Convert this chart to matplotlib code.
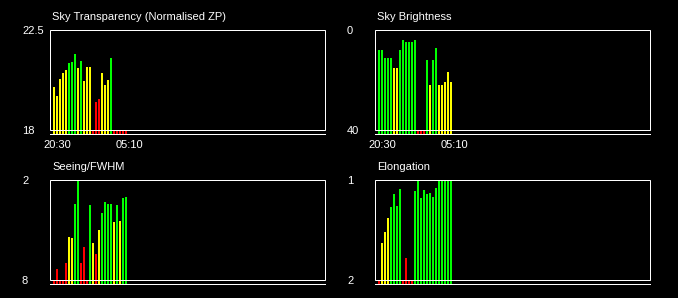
import numpy as np
import matplotlib
matplotlib.use("Agg")
import matplotlib.pyplot as plt
from matplotlib.patches import Rectangle

nan = np.nan

# ---- data ----
titles = ["Sky Transparency (Normalised ZP)", "Sky Brightness", "Seeing/FWHM", "Elongation"]
time_labels = ["20:30", "05:10"]
time_label_bars = [1, 25]

transparency = [19.94, 19.53, 20.30, 20.57, 20.70, 21.02, 21.06, 21.42, 20.79, 21.11,
                20.21, 20.84, 20.84, nan, 19.26, 19.40, 20.58, 20.03, 20.25, 21.24,
                nan, nan, nan, nan, nan]
transparency_q = ["y", "y", "y", "y", "y", "g", "g", "g", "y", "g",
                  "y", "y", "y", "r", "r", "r", "y", "y", "y", "g",
                  "r", "r", "r", "r", "r"]

brightness = [8.0, 8.0, 11.2, 11.2, 11.2, 15.2, 15.2, 8.0, 4.0, 4.8,
              4.8, 4.8, 4.0, nan, nan, nan, 12.0, 22.0, 12.0, 7.2,
              22.0, 22.0, 20.8, 16.8, 20.8]
brightness_q = ["g", "g", "g", "g", "g", "y", "y", "g", "g", "g",
                "g", "g", "g", "r", "r", "r", "g", "y", "g", "g",
                "y", "y", "y", "y", "y"]

seeing = [nan, 7.34, nan, nan, 6.98, 5.42, 5.48, 3.44, 2.00, 6.98,
          6.02, nan, 3.50, 5.78, 6.44, 5.00, 3.98, 3.32, 3.44, 3.44,
          4.52, 3.50, 4.46, 3.08, 3.02]
seeing_q = ["r", "r", "r", "r", "r", "y", "y", "g", "g", "r",
            "r", "r", "g", "y", "r", "y", "g", "g", "g", "g",
            "y", "g", "y", "g", "g"]

elongation = [nan, 1.63, 1.52, 1.38, 1.27, 1.14, 1.26, 1.09, nan, 1.78,
              nan, nan, 1.11, 1.00, 1.18, 1.10, 1.14, 1.13, 1.17, 1.08,
              1.00, 1.00, 1.00, 1.00, 1.00]
elongation_q = ["r", "y", "y", "y", "g", "g", "g", "g", "r", "r",
                "r", "r", "g", "g", "g", "g", "g", "g", "g", "g",
                "g", "g", "g", "g", "g"]

ytick_labels = [["22.5", "18"], ["0", "40"], ["2", "8"], ["1", "2"]]
y_top = [22.5, 0.0, 2.0, 1.0]
y_bottom = [18.0, 40.0, 8.0, 2.0]

series = [transparency, brightness, seeing, elongation]
quality = [transparency_q, brightness_q, seeing_q, elongation_q]

# ---- style ----
W, H, DPI = 678, 298, 100
qcolor = {"g": "#00ff00", "y": "#ffff00", "r": "#ff0000"}
lw = 0.72
fs = 8

plt.rcParams["font.family"] = ["Liberation Sans", "DejaVu Sans"]
fig = plt.figure(figsize=(W / DPI, H / DPI), dpi=DPI, facecolor="black")

# panel pixel geometry: (left, top) of box; box 275x100, base line 4px below
panel_px = [(50, 30), (375, 30), (50, 180), (375, 180)]
box_w, box_h, gap = 275, 100, 4

for k in range(4):
    px, py = panel_px[k]
    ax = fig.add_axes([px / W, 1 - (py + box_h + gap) / H, box_w / W, (box_h + gap) / H])
    ax.set_facecolor("black")
    for s in ax.spines.values():
        s.set_visible(False)
    top, bot = y_top[k], y_bottom[k]
    rng = bot - top
    base = bot + rng * gap / box_h
    ax.set_ylim(base, top)
    xlim = (-1, box_w / 3 - 1)
    ax.set_xlim(*xlim)

    vals = np.array(series[k], dtype=float)
    x = np.arange(len(vals))
    tops = np.where(np.isnan(vals), bot, vals)
    cols = [qcolor[q] for q in quality[k]]
    ax.bar(x, tops - base, bottom=base, width=2 / 3, align="edge", color=cols,
           linewidth=0, zorder=2)

    ax.add_patch(Rectangle((xlim[0], bot), xlim[1] - xlim[0], top - bot,
                           fill=False, edgecolor="white", linewidth=lw,
                           clip_on=False, zorder=3))
    ax.axhline(base, color="white", linewidth=lw, clip_on=False, zorder=3)

    ax.set_yticks([top, bot])
    ax.set_yticklabels(ytick_labels[k])
    ax.tick_params(axis="y", length=0, pad=28 * 0.72, labelsize=fs, labelcolor="white")
    for t in ax.get_yticklabels():
        t.set_horizontalalignment("left")

    if k < 2:
        ax.set_xticks([b + 1 / 3 for b in time_label_bars])
        ax.set_xticklabels(time_labels)
        ax.tick_params(axis="x", length=0, pad=4, labelsize=fs, labelcolor="white")
    else:
        ax.set_xticks([])

    ax.text(2 / box_w, 1 + 13.5 / (box_h + gap), titles[k], transform=ax.transAxes,
            color="white", fontsize=fs, ha="left", va="center")

fig.savefig("out.png", dpi=DPI, facecolor="black")
